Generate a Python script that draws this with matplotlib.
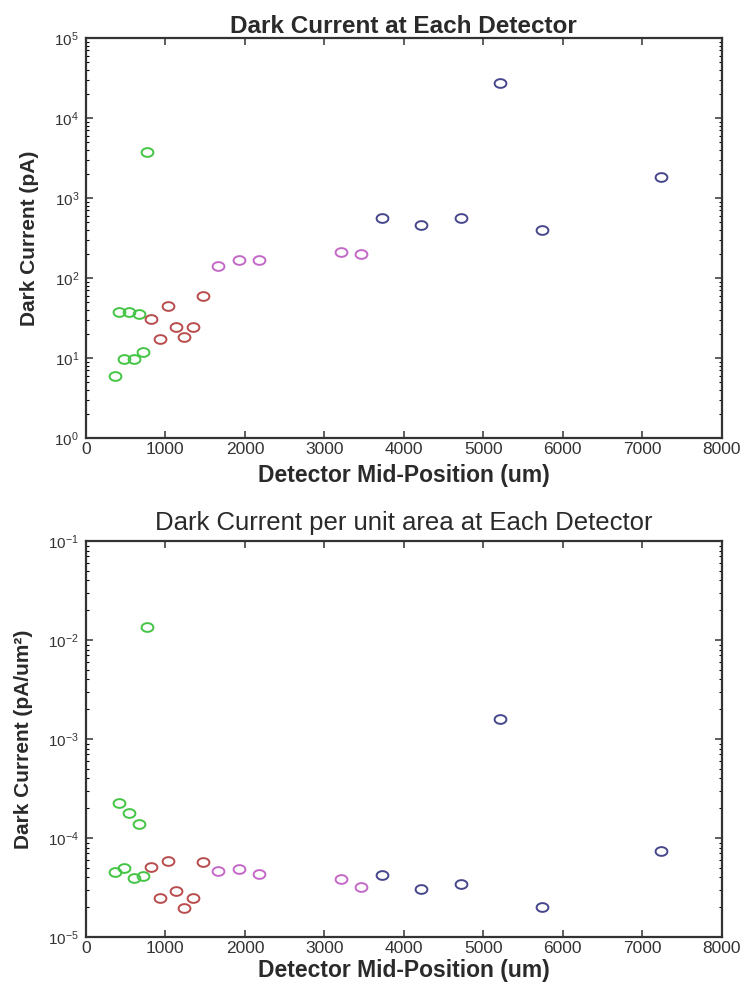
import numpy as np
import matplotlib
matplotlib.use('Agg')
import matplotlib.pyplot as plt
from matplotlib.path import Path
from matplotlib.ticker import LogLocator, FixedLocator

plt.rcParams['font.family'] = ['Liberation Sans', 'DejaVu Sans']
plt.rcParams['mathtext.fontset'] = 'custom'
plt.rcParams['mathtext.rm'] = 'Liberation Sans'
plt.rcParams['mathtext.it'] = 'Liberation Sans:italic'
plt.rcParams['mathtext.bf'] = 'Liberation Sans:bold'

# detector mid-positions (um) per group
green_x = [365, 478, 604, 717, 415, 541, 667, 767]
red_x = [818, 931, 1031, 1132, 1233, 1346, 1472]
magenta_x = [1660, 1925, 2176, 3208, 3459]
blue_x = [3723, 4214, 4717, 5208, 5736, 7233]

# dark current (pA)
green_i = [6.0, 9.7, 9.7, 11.9, 37.6, 37.6, 35.5, 3760]
red_i = [30.7, 17.2, 44.7, 24.4, 18.3, 24.4, 59.6]
magenta_i = [141, 168, 168, 211, 200]
blue_i = [562, 457, 562, 27400, 398, 1820]

# dark current per unit area (pA/um^2)
green_j = [4.54e-5, 4.98e-5, 3.94e-5, 4.13e-5, 2.26e-4, 1.79e-4, 1.38e-4, 1.35e-2]
red_j = [5.1e-5, 2.48e-5, 5.86e-5, 2.92e-5, 1.96e-5, 2.48e-5, 5.73e-5]
magenta_j = [4.65e-5, 4.86e-5, 4.33e-5, 3.85e-5, 3.2e-5]
blue_j = [4.23e-5, 3.05e-5, 3.43e-5, 1.59e-3, 2.01e-5, 7.4e-5]

colors = ['#44c444', '#b84c4c', '#c468c8', '#46468c']

# slightly wide open circle, like the stretched original
t = np.linspace(0, 2 * np.pi, 41)
ellipse = Path(np.column_stack([1.35 * np.cos(t), np.sin(t)]), closed=True)


def style_axis(ax, ymin_exp, ymax_exp):
    ax.set_yscale('log')
    ax.set_xlim(0, 8000)
    ax.set_ylim(10.0 ** ymin_exp, 10.0 ** ymax_exp)
    ax.xaxis.set_major_locator(FixedLocator(range(0, 8001, 1000)))
    ax.yaxis.set_major_locator(LogLocator(base=10, numticks=20))
    ax.yaxis.set_minor_locator(LogLocator(base=10, subs=np.arange(2, 10), numticks=20))
    ax.tick_params(which='both', direction='in', top=True, right=True)
    ax.tick_params(axis='x', labelsize=12.5, pad=3, colors='#333333')
    ax.tick_params(axis='y', labelsize=11, pad=5, colors='#333333')
    ax.tick_params(which='major', length=5, width=1.1)
    ax.tick_params(which='minor', length=2.5, width=0.8)
    for s in ax.spines.values():
        s.set_linewidth(1.6)
        s.set_color('#333333')


fig = plt.figure(figsize=(7.41, 9.94), dpi=100)
ax1 = fig.add_axes([0.116, 0.5594, 0.858, 0.4024])
ax2 = fig.add_axes([0.116, 0.0573, 0.858, 0.3984])

groups_top = [(green_x, green_i), (red_x, red_i), (magenta_x, magenta_i), (blue_x, blue_i)]
groups_bot = [(green_x, green_j), (red_x, red_j), (magenta_x, magenta_j), (blue_x, blue_j)]

for (x, y), c in zip(groups_top, colors):
    ax1.plot(x, y, linestyle='none', marker=ellipse, markersize=8.5,
             markerfacecolor='none', markeredgecolor=c, markeredgewidth=1.4)
for (x, y), c in zip(groups_bot, colors):
    ax2.plot(x, y, linestyle='none', marker=ellipse, markersize=8.5,
             markerfacecolor='none', markeredgecolor=c, markeredgewidth=1.4)

style_axis(ax1, 0, 5)
style_axis(ax2, -5, -1)

ax1.set_title('Dark Current at Each Detector', fontsize=17.5, fontweight='bold', pad=2, color='#2a2a2a')
ax1.set_xlabel('Detector Mid-Position (um)', fontsize=16.5, fontweight='bold', labelpad=5, color='#2a2a2a')
ax1.set_ylabel('Dark Current (pA)', fontsize=15, fontweight='bold', labelpad=11, color='#2a2a2a')

ax2.set_title('Dark Current per unit area at Each Detector', fontsize=18.5, pad=8, color='#2a2a2a')
ax2.set_xlabel('Detector Mid-Position (um)', fontsize=16.5, fontweight='bold', labelpad=2, color='#2a2a2a')
ax2.set_ylabel('Dark Current (pA/um²)', fontsize=15, fontweight='bold', labelpad=11, color='#2a2a2a')

fig.savefig('out.png', dpi=100)
